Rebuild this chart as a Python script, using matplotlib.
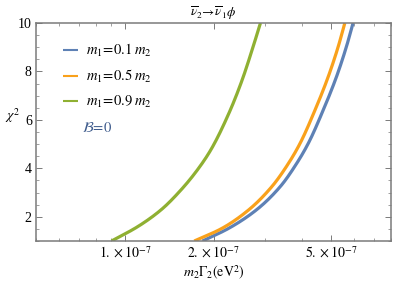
import numpy as np
import matplotlib
matplotlib.use("Agg")
import matplotlib.pyplot as plt
from matplotlib.ticker import FixedLocator, NullFormatter, MultipleLocator

plt.rcParams['font.family'] = ['Liberation Serif', 'DejaVu Serif']
plt.rcParams['mathtext.fontset'] = 'stix'

# Data (x in units of 1e-7 eV^2, y = chi^2)
x_green = [0.902, 1.109, 1.329, 1.552, 1.765, 1.958, 2.257, 2.502, 2.704, 2.886]
y_green = [1.0, 1.6, 2.29, 3.11, 3.94, 4.76, 6.28, 7.65, 8.89, 10.0]
x_orange = [1.721, 2.143, 2.636, 3.157, 3.594, 3.936, 4.421, 4.899, 5.296, 5.578]
y_orange = [1.0, 1.53, 2.29, 3.25, 4.21, 5.04, 6.41, 7.78, 9.02, 10.0]
x_blue = [1.835, 2.257, 2.800, 3.371, 3.833, 4.197, 4.714, 5.226, 5.647, 5.949]
y_blue = [1.0, 1.53, 2.29, 3.25, 4.21, 5.04, 6.41, 7.78, 9.02, 10.0]

labels = [r'$m_1\!=\!0.1\;m_2$', r'$m_1\!=\!0.5\;m_2$', r'$m_1\!=\!0.9\;m_2$']
colors = ['#5E81B5', '#F9A11B', '#8FB032']

xticks = [1e-7, 2e-7, 5e-7]
xticklabels = [r'$1.\times10^{-7}$', r'$2.\times10^{-7}$', r'$5.\times10^{-7}$']
yticks = [2, 4, 6, 8, 10]


def pchip(x, y, xn):
    x = np.asarray(x, float); y = np.asarray(y, float)
    h = np.diff(x); d = np.diff(y) / h
    m = np.zeros_like(x)
    for k in range(1, len(x) - 1):
        if d[k-1] * d[k] > 0:
            w1 = 2*h[k] + h[k-1]; w2 = h[k] + 2*h[k-1]
            m[k] = (w1 + w2) / (w1/d[k-1] + w2/d[k])
    m[0] = d[0]; m[-1] = d[-1]
    idx = np.clip(np.searchsorted(x, xn) - 1, 0, len(x) - 2)
    t = (xn - x[idx]) / h[idx]
    h00 = 2*t**3 - 3*t**2 + 1; h10 = t**3 - 2*t**2 + t
    h01 = -2*t**3 + 3*t**2; h11 = t**3 - t**2
    return h00*y[idx] + h10*h[idx]*m[idx] + h01*y[idx+1] + h11*h[idx]*m[idx+1]


def smooth(xs, ys):
    lx = np.log10(np.array(xs) * 1e-7)
    ln = np.linspace(lx[0], lx[-1], 300)
    return 10**ln, pchip(lx, ys, ln)


fig = plt.figure(figsize=(3.99, 2.82), dpi=100)
ax = fig.add_axes([36/399, 1-241/282, (391-36)/399, (241-23)/282])

for xs, ys, c, lab in [(x_blue, y_blue, colors[0], labels[0]),
                       (x_orange, y_orange, colors[1], labels[1]),
                       (x_green, y_green, colors[2], labels[2])]:
    sx, sy = smooth(xs, ys)
    ax.plot(sx, sy, color=c, lw=2.3, label=lab, solid_capstyle='butt')

ax.set_xscale('log')
ax.set_xlim(5e-8, 8e-7)
ax.set_ylim(1, 10)

ax.set_xticks(xticks)
ax.set_xticklabels(xticklabels)
minor_x = [k*1e-8 for k in range(5, 10)] + [k*1e-7 for k in (3, 4, 6, 7, 8)]
ax.xaxis.set_minor_locator(FixedLocator(minor_x))
ax.xaxis.set_minor_formatter(NullFormatter())
ax.set_yticks(yticks)
ax.set_yticklabels([str(v) for v in yticks])
ax.yaxis.set_minor_locator(MultipleLocator(0.5))

frame_col = '#7a7a7a'
for s in ax.spines.values():
    s.set_color(frame_col)
    s.set_linewidth(1.1)
ax.tick_params(which='both', direction='in', top=True, right=True,
               color=frame_col, labelsize=10, pad=3)
ax.tick_params(which='major', length=4, width=0.7)
ax.tick_params(which='minor', length=2.2, width=0.5)

ax.set_xlabel(r'$m_2\Gamma_2(\mathrm{eV}^2)$', fontsize=10, labelpad=2)
ax.set_ylabel(r'$\chi^2$', fontsize=10, rotation=0, labelpad=8)
ax.yaxis.set_label_coords(-0.065, 0.53)
ax.set_title(r'$\overline{\nu}_2\!\rightarrow\!\overline{\nu}_1\phi$', fontsize=9.5, pad=4)

leg = ax.legend(loc='upper left', bbox_to_anchor=(0.06, 0.94), frameon=False,
                fontsize=10.5, handlelength=1.0, handletextpad=0.6,
                labelspacing=0.62, borderaxespad=0)
for h in leg.get_lines():
    h.set_linewidth(1.5)

ax.text(0.13, 0.52, r'$\mathcal{B}\!=\!0$', transform=ax.transAxes,
        color='#3E5B8C', fontsize=10.5, va='center', ha='left')

fig.savefig('out.png', dpi=100)
